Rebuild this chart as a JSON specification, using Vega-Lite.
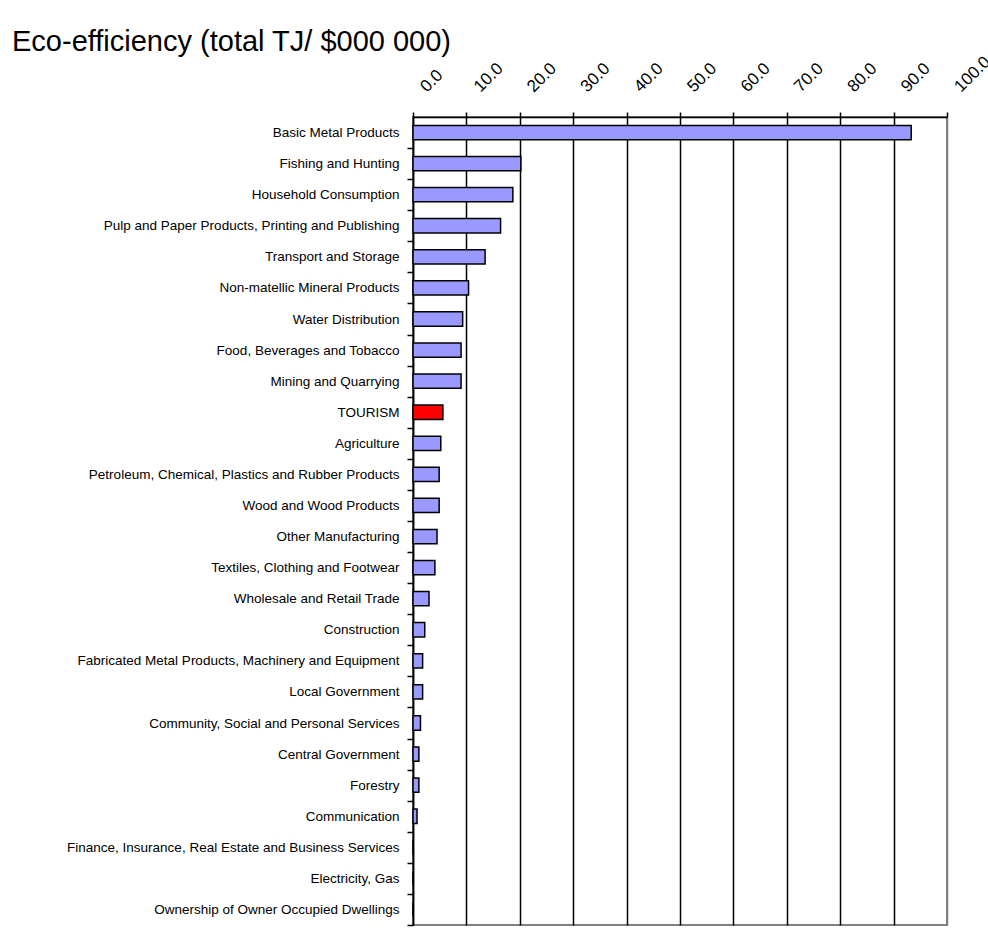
{
  "$schema": "https://vega.github.io/schema/vega-lite/v6.json",
  "width": 534,
  "height": 808,
  "autosize": {"type": "none"},
  "padding": {"left": 413, "top": 117, "right": 41, "bottom": 15},
  "background": "white",
  "title": {
    "text": "Eco-efficiency (total TJ/ $000 000)",
    "anchor": "start",
    "frame": "group",
    "dx": -401,
    "dy": 29,
    "fontSize": 29,
    "font": "Liberation Sans",
    "fontWeight": "normal",
    "color": "black",
    "baseline": "alphabetic",
    "offset": 2
  },
  "config": {
    "view": {"stroke": "#808080", "strokeWidth": 2},
    "font": "Liberation Sans"
  },
  "data": {
    "values": [
      {"sector": "Basic Metal Products", "value": 93.3},
      {"sector": "Fishing and Hunting", "value": 20.2},
      {"sector": "Household Consumption", "value": 18.7},
      {"sector": "Pulp and Paper Products, Printing and Publishing", "value": 16.4},
      {"sector": "Transport and Storage", "value": 13.5},
      {"sector": "Non-matellic Mineral Products", "value": 10.4},
      {"sector": "Water Distribution", "value": 9.3},
      {"sector": "Food, Beverages and Tobacco", "value": 9.0},
      {"sector": "Mining and Quarrying", "value": 9.0},
      {"sector": "TOURISM", "value": 5.6},
      {"sector": "Agriculture", "value": 5.2},
      {"sector": "Petroleum, Chemical, Plastics and Rubber Products", "value": 4.9},
      {"sector": "Wood and Wood Products", "value": 4.9},
      {"sector": "Other Manufacturing", "value": 4.5},
      {"sector": "Textiles, Clothing and Footwear", "value": 4.1},
      {"sector": "Wholesale and Retail Trade", "value": 3.0},
      {"sector": "Construction", "value": 2.2},
      {"sector": "Fabricated Metal Products, Machinery and Equipment", "value": 1.8},
      {"sector": "Local Government", "value": 1.8},
      {"sector": "Community, Social and Personal Services", "value": 1.4},
      {"sector": "Central Government", "value": 1.1},
      {"sector": "Forestry", "value": 1.1},
      {"sector": "Communication", "value": 0.75},
      {"sector": "Finance, Insurance, Real Estate and Business Services", "value": 0},
      {"sector": "Electricity, Gas", "value": 0},
      {"sector": "Ownership of Owner Occupied Dwellings", "value": 0}
    ]
  },
  "mark": {"type": "bar", "stroke": "black", "strokeWidth": 1.5},
  "encoding": {
    "y": {
      "field": "sector",
      "type": "nominal",
      "sort": null,
      "scale": {"paddingInner": 0.54, "paddingOuter": 0.27},
      "axis": {
        "title": null,
        "tickOffset": 15.54,
        "labelOffset": -15.54,
        "labelFontSize": 13.5,
        "labelFont": "Liberation Sans",
        "labelColor": "black",
        "labelPadding": 8,
        "labelLimit": 600,
        "tickSize": 6,
        "tickColor": "black",
        "tickWidth": 1.5,
        "domainColor": "black",
        "domainWidth": 1.5
      }
    },
    "x": {
      "field": "value",
      "type": "quantitative",
      "scale": {"domain": [0, 100], "nice": false, "zero": true},
      "axis": {
        "orient": "top",
        "title": null,
        "values": [0, 10, 20, 30, 40, 50, 60, 70, 80, 90, 100],
        "format": ".1f",
        "labelAngle": -45,
        "labelAlign": "left",
        "labelBaseline": "middle",
        "labelFontSize": 17,
        "labelFont": "Liberation Sans",
        "labelColor": "black",
        "labelPadding": 23,
        "labelOffset": 10,
        "labelFlush": false,
        "labelOverlap": false,
        "labelBound": false,
        "tickSize": 5,
        "tickColor": "black",
        "tickWidth": 1.5,
        "domainColor": "black",
        "domainWidth": 1.5,
        "grid": true,
        "gridColor": {"condition": {"test": "datum.value === 100", "value": "#808080"}, "value": "black"},
        "gridWidth": 1.5,
        "gridOpacity": 1
      }
    },
    "color": {
      "condition": {"test": "datum.sector === 'TOURISM'", "value": "#FF0000"},
      "value": "#9999FF"
    }
  }
}
